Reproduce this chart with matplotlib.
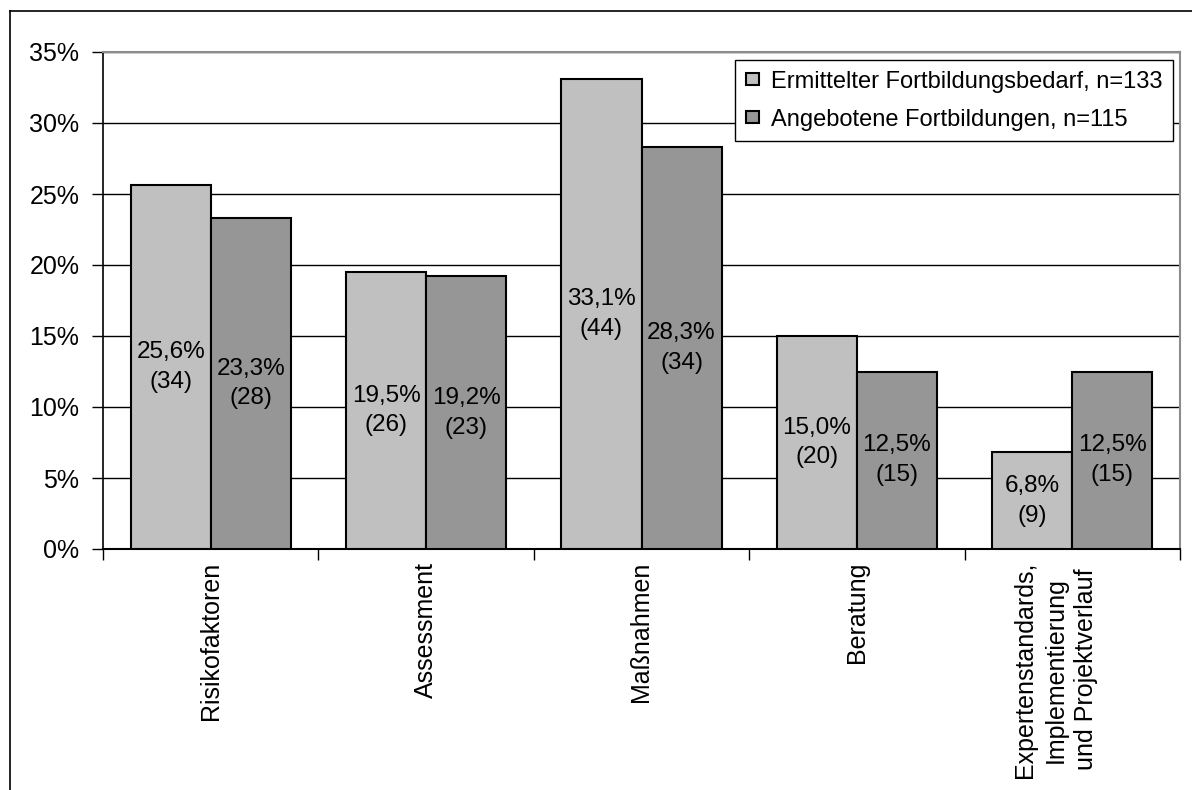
import matplotlib.pyplot as plt
import numpy as np
from matplotlib.lines import Line2D
from matplotlib.ticker import FixedLocator, FuncFormatter
from matplotlib.transforms import ScaledTranslation

plt.rcParams['font.family'] = ['Liberation Sans', 'DejaVu Sans']

categories = ['Risikofaktoren', 'Assessment', 'Maßnahmen', 'Beratung',
              'Expertenstandards,\nImplementierung\nund Projektverlauf']
bedarf_pct = [25.6, 19.5, 33.1, 15.0, 6.8]
bedarf_n = [34, 26, 44, 20, 9]
angebot_pct = [23.3, 19.2, 28.3, 12.5, 12.5]
angebot_n = [28, 23, 34, 15, 15]
series_labels = ['Ermittelter Fortbildungsbedarf, n=133',
                 'Angebotene Fortbildungen, n=115']


def de(v):
    return f"{v:.1f}".replace('.', ',')


def main():
    fig = plt.figure(figsize=(11.92, 7.90), dpi=100)
    ax = fig.add_axes([103 / 1192, 241 / 790, 1077 / 1192, 497 / 790])

    x = np.arange(len(categories)) + 0.5
    w = 0.3715
    b1 = ax.bar(x - w / 2, bedarf_pct, w, color='#C0C0C0', edgecolor='black',
                linewidth=1.5, label=series_labels[0], zorder=3)
    b2 = ax.bar(x + w / 2, angebot_pct, w, color='#969696', edgecolor='black',
                linewidth=1.5, label=series_labels[1], zorder=3)

    # value labels centred in each bar
    for bars, pct, n in ((b1, bedarf_pct, bedarf_n), (b2, angebot_pct, angebot_n)):
        for rect, p, c in zip(bars, pct, n):
            ax.text(rect.get_x() + rect.get_width() / 2, p / 2,
                    f"{de(p)}%\n({c})", ha='center', va='center',
                    fontsize=17.5, linespacing=1.45, zorder=4)

    ax.set_xlim(0, len(categories))
    ax.set_ylim(0, 35)
    ax.set_yticks(np.arange(0, 36, 5))
    ax.yaxis.set_major_formatter(FuncFormatter(lambda v, _: f"{v:.0f}%"))
    ax.yaxis.grid(True, color='black', linewidth=1.0, zorder=0)
    ax.tick_params(axis='y', length=8, width=1, pad=9, labelsize=18)

    ax.set_xticks(x)
    ax.set_xticklabels(categories, rotation=90, fontsize=18,
                       multialignment='center', linespacing=1.35)
    ax.xaxis.set_minor_locator(FixedLocator(np.arange(len(categories) + 1)))
    ax.tick_params(axis='x', which='major', length=0, pad=9)
    ax.tick_params(axis='x', which='minor', length=8, width=1)
    # the three-line label sits a little left of its group centre
    last = ax.get_xticklabels()[-1]
    last.set_transform(last.get_transform()
                       + ScaledTranslation(-17 / 100, 0, fig.dpi_scale_trans))

    for side in ('top', 'right'):
        ax.spines[side].set_color('#8c8c8c')
        ax.spines[side].set_linewidth(1.5)
    ax.spines['left'].set_linewidth(1.2)
    ax.spines['bottom'].set_linewidth(1.5)

    leg = ax.legend(loc='upper right', bbox_to_anchor=(1173 / 1192, 730 / 790),
                    bbox_transform=fig.transFigure, borderaxespad=0,
                    fontsize=17, fancybox=False, framealpha=1,
                    edgecolor='black', handlelength=0.55, handleheight=0.4,
                    handletextpad=0.5, labelspacing=0.68, borderpad=0.45)
    leg.get_frame().set_linewidth(1.0)
    leg.set_zorder(5)

    # outer chart frame
    fig.add_artist(Line2D([10 / 1192, 10 / 1192], [0, 779 / 790],
                          transform=fig.transFigure, color='black', lw=1.2))
    fig.add_artist(Line2D([10 / 1192, 1], [779 / 790, 779 / 790],
                          transform=fig.transFigure, color='black', lw=1.2))

    fig.savefig('out.png', dpi=100)


if __name__ == "__main__":
    main()
